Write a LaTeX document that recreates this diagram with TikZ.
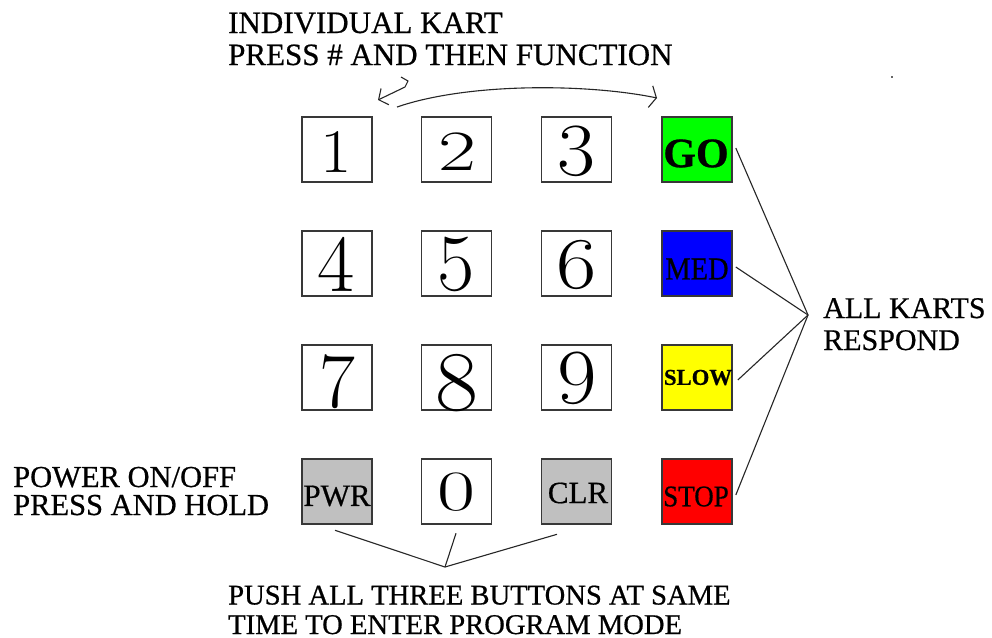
\documentclass[tikz,border=0pt]{standalone}
\usepackage{fontspec}
\usepackage{graphicx}
\usetikzlibrary{arrows.meta,calc}
\newfontfamily\tnr[FakeBold=0.6]{Liberation Serif}
\newcommand{\dg}[3]{\fontsize{#1}{#1}\selectfont\scalebox{#2}[1]{#3}}
\begin{document}
\begin{tikzpicture}[x=1pt,y=-1pt,
  btn/.style={draw=black!78, line width=1.6pt, minimum width=70pt, minimum height=65pt, inner sep=0pt},
  digit/.style={inner sep=0pt},
  lbl/.style={inner sep=0pt, anchor=base west},
  conn/.style={draw=black!85, line width=1.1pt},
  arr/.style={draw=black!85, line width=1.1pt},
]
\useasboundingbox[fill=white] (0,0) rectangle (992,637);

% buttons
\node[btn, fill=white] (b1) at (337,149.5) {};
\node[btn, fill=white] (b2) at (456.5,149.5) {};
\node[btn, fill=white] (b3) at (576.5,149.5) {};
\node[btn, fill={rgb,255:red,0;green,255;blue,0}] (go) at (697,149.5) {};
\node[btn, fill=white] (b4) at (337,263.5) {};
\node[btn, fill=white] (b5) at (456.5,263.5) {};
\node[btn, fill=white] (b6) at (576.5,263.5) {};
\node[btn, fill={rgb,255:red,0;green,0;blue,255}] (med) at (697,263.5) {};
\node[btn, fill=white] (b7) at (337,377.5) {};
\node[btn, fill=white] (b8) at (456.5,377.5) {};
\node[btn, fill=white] (b9) at (576.5,377.5) {};
\node[btn, fill={rgb,255:red,255;green,255;blue,0}] (slow) at (697,377.5) {};
\node[btn, fill={rgb,255:red,192;green,192;blue,192}] (pwr) at (337,491.5) {};
\node[btn, fill=white] (b0) at (456.5,491.5) {};
\node[btn, fill={rgb,255:red,192;green,192;blue,192}] (clr) at (576.5,491.5) {};
\node[btn, fill={rgb,255:red,255;green,0;blue,0}] (stop) at (697,491.5) {};

% digits
\node[digit] (t1) at ($(b1.center)+(-1,3)$) {\dg{62}{1.1}{1}};
\node[digit] (t2) at ($(b2.center)+(1,2.5)$) {\dg{57}{1.45}{2}};
\node[digit] (t3) at ($(b3.center)+(0,1.5)$) {\dg{75}{1.1}{3}};
\node[digit] (t4) at ($(b4.center)+(-1,0.5)$) {\dg{81}{1.0}{4}};
\node[digit] (t5) at ($(b5.center)+(0,0.5)$) {\dg{81}{1.0}{5}};
\node[digit] (t6) at ($(b6.center)+(0,1.5)$) {\dg{73}{1.2}{6}};
\node[digit] (t7) at ($(b7.center)+(0,4.5)$) {\dg{78}{1.0}{7}};
\node[digit] (t8) at ($(b8.center)+(0,5.5)$) {\dg{85}{1.1}{8}};
\node[digit] (t9) at ($(b9.center)+(1,0.5)$) {\dg{78}{1.1}{9}};
\node[digit] (t0) at ($(b0.center)+(0,0.5)$) {\dg{57}{1.45}{0}};

% button words
\node[inner sep=0pt, font=\tnr\bfseries\fontsize{42}{42}\selectfont] (goT) at ($(go.center)+(-1,4)$) {GO};
\node[inner sep=0pt, font=\tnr\fontsize{32}{32}\selectfont] (medT) at ($(med.center)+(0,5.5)$) {\scalebox{0.89}[1]{MED}};
\node[inner sep=0pt, font=\tnr\bfseries\fontsize{22.7}{23}\selectfont] (slowT) at ($(slow.center)+(1,0)$) {SLOW};
\node[inner sep=0pt, font=\tnr\fontsize{30}{30}\selectfont] (stopT) at ($(stop.center)+(-1,5)$) {\scalebox{0.9}[1]{STOP}};
\node[inner sep=0pt, font=\tnr\fontsize{31}{31}\selectfont] (pwrT) at ($(pwr.center)+(0,4.5)$) {PWR};
\node[inner sep=0pt, font=\tnr\fontsize{31}{31}\selectfont] (clrT) at ($(clr.center)+(1.5,1.5)$) {CLR};

% labels
\node[lbl, font=\tnr\fontsize{31}{32}\selectfont] (top1) at (228,33) {INDIVIDUAL KART};
\node[lbl, font=\tnr\fontsize{31}{32}\selectfont] (top2) at (228,65) {PRESS \# AND THEN FUNCTION};
\node[lbl, font=\tnr\fontsize{30}{32}\selectfont] (all1) at (823,318) {ALL KARTS};
\node[lbl, font=\tnr\fontsize{30}{32}\selectfont] (all2) at (823,350) {RESPOND};
\node[lbl, font=\tnr\fontsize{30.5}{30}\selectfont] (pow1) at (13,487) {POWER ON/OFF};
\node[lbl, font=\tnr\fontsize{30.5}{30}\selectfont] (pow2) at (13,515) {PRESS AND HOLD};
\node[lbl, font=\tnr\fontsize{28.6}{30}\selectfont] (push1) at (228,604.5) {PUSH ALL THREE BUTTONS AT SAME};
\node[lbl, font=\tnr\fontsize{28.6}{30}\selectfont] (push2) at (228,634) {TIME TO ENTER PROGRAM MODE};

% right connectors
\coordinate (hubR) at (808,315);
\draw[conn] ($(go.east)+(3,-1.5)$) -- (hubR);
\draw[conn] ($(med.east)+(3,3.5)$) -- (hubR);
\draw[conn] ($(slow.east)+(5,2.5)$) -- (hubR);
\draw[conn] ($(stop.east)+(3,3.5)$) -- (hubR);

% bottom connectors
\coordinate (hubB) at (445,567);
\draw[conn] ($(pwr.south)+(-2,5.5)$) -- (hubB);
\draw[conn] ($(b0.south)+(-0.5,8.5)$) -- (hubB);
\draw[conn] ($(clr.south)+(-19.5,9.5)$) -- (hubB);

% top arrows
\coordinate (s1) at (401,77);
\coordinate (s2) at (408,81);
\coordinate (s3) at (405,87);
\coordinate (s4) at (378,100);
\draw[arr, -{Straight Barb[length=7pt,width=18pt]}] (s1) -- (s2) -- (s3) -- (s4);
\coordinate (a1) at (397,107);
\coordinate (a2) at (657,98);
\draw[arr, -{Straight Barb[length=6pt,width=22pt]}] (a1) .. controls (470,82) and (590,84) .. (a2);

% speck
\fill[black!60] (891,76) rectangle (893,78);
\end{tikzpicture}
\end{document}
